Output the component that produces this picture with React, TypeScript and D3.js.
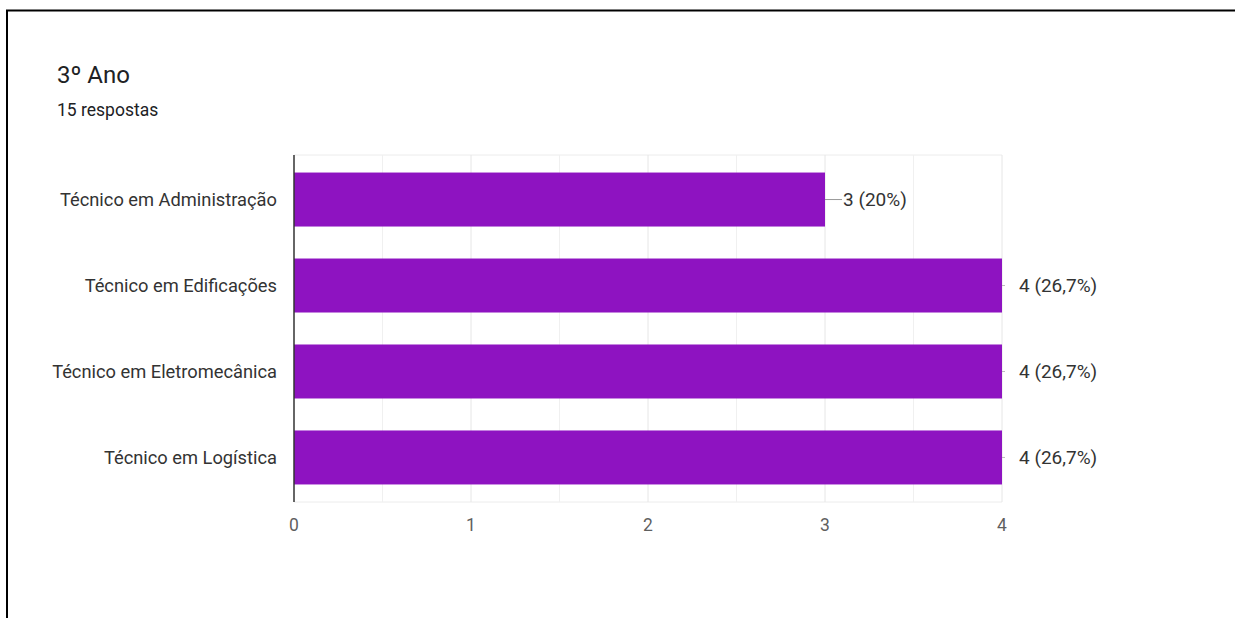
import React from "react";
import * as d3 from "d3";

const categories = [
  "Técnico em Administração",
  "Técnico em Edificações",
  "Técnico em Eletromecânica",
  "Técnico em Logística",
];
const counts = [3, 4, 4, 4];
const valueLabels = ["3 (20%)", "4 (26,7%)", "4 (26,7%)", "4 (26,7%)"];
const xTicks = [0, 1, 2, 3, 4];
const gridValues = [0.5, 1, 1.5, 2, 2.5, 3, 3.5, 4];
const title = "3º Ano";
const subtitle = "15 respostas";

const W = 1235;
const H = 618;
const plot = { left: 294, right: 1002, top: 155, bottom: 502 };
const FONT = "Roboto, 'Liberation Sans', Arial, sans-serif";

export default function App() {
  const x = d3.scaleLinear().domain([0, 4]).range([plot.left, plot.right]);
  const y = d3
    .scaleBand<string>()
    .domain(categories)
    .range([plot.top, plot.bottom])
    .paddingInner(0.372)
    .paddingOuter(0.204);
  const bw = y.bandwidth();

  return (
    <svg
      width={W}
      height={H}
      style={{ position: "absolute", left: 0, top: 0, background: "#fff" }}
      fontFamily={FONT}
    >
      <rect x={0} y={0} width={W} height={H} fill="#fff" />
      {/* frame */}
      <line x1={6} y1={10.5} x2={W} y2={10.5} stroke="#000" strokeWidth={2} />
      <line x1={7} y1={10} x2={7} y2={H} stroke="#000" strokeWidth={2} />

      <text x={57} y={83} fontSize={24} fill="#202124">{title}</text>
      <text x={57} y={116} fontSize={17.5} fill="#202124">{subtitle}</text>

      {/* grid */}
      <line x1={plot.left} x2={plot.right} y1={plot.top} y2={plot.top} stroke="#ececec" strokeWidth={1} />
      <line x1={plot.left} x2={plot.right} y1={plot.bottom} y2={plot.bottom} stroke="#ececec" strokeWidth={1} />
      {gridValues.map((v) => (
        <line
          key={v}
          x1={x(v)}
          x2={x(v)}
          y1={plot.top}
          y2={plot.bottom}
          stroke={Number.isInteger(v) ? "#e6e6e6" : "#f0f0f0"}
          strokeWidth={1}
        />
      ))}

      {/* bars */}
      {categories.map((c, i) => {
        const y0 = y(c)!;
        const xe = x(counts[i]);
        const cy = y0 + bw / 2;
        const short = counts[i] < 4;
        return (
          <g key={c}>
            <rect x={x(0)} y={y0} width={xe - x(0)} height={bw} fill="#8e13c1" />
            <text
              x={277}
              y={cy}
              dy="0.35em"
              textAnchor="end"
              fontSize={18.3}
              fill="#333"
            >
              {c}
            </text>
            {short ? (
              <>
                <line x1={xe} x2={xe + 17} y1={cy} y2={cy} stroke="#999" strokeWidth={1} />
                <text x={xe + 18} y={cy} dy="0.35em" fontSize={19} fill="#333">
                  {valueLabels[i]}
                </text>
              </>
            ) : (
              <>
                <line x1={xe} x2={xe + 3} y1={cy} y2={cy} stroke="#bbb" strokeWidth={1} />
                <text x={xe + 17} y={cy} dy="0.35em" fontSize={19} fill="#333">
                  {valueLabels[i]}
                </text>
              </>
            )}
          </g>
        );
      })}

      {/* zero axis */}
      <line x1={plot.left} x2={plot.left} y1={plot.top} y2={plot.bottom} stroke="#333" strokeWidth={1.5} />

      {/* x tick labels */}
      {xTicks.map((t) => (
        <text
          key={t}
          x={x(t)}
          y={525}
          dy="0.35em"
          textAnchor="middle"
          fontSize={17.5}
          fill="#5f5f5f"
        >
          {t}
        </text>
      ))}
    </svg>
  );
}
